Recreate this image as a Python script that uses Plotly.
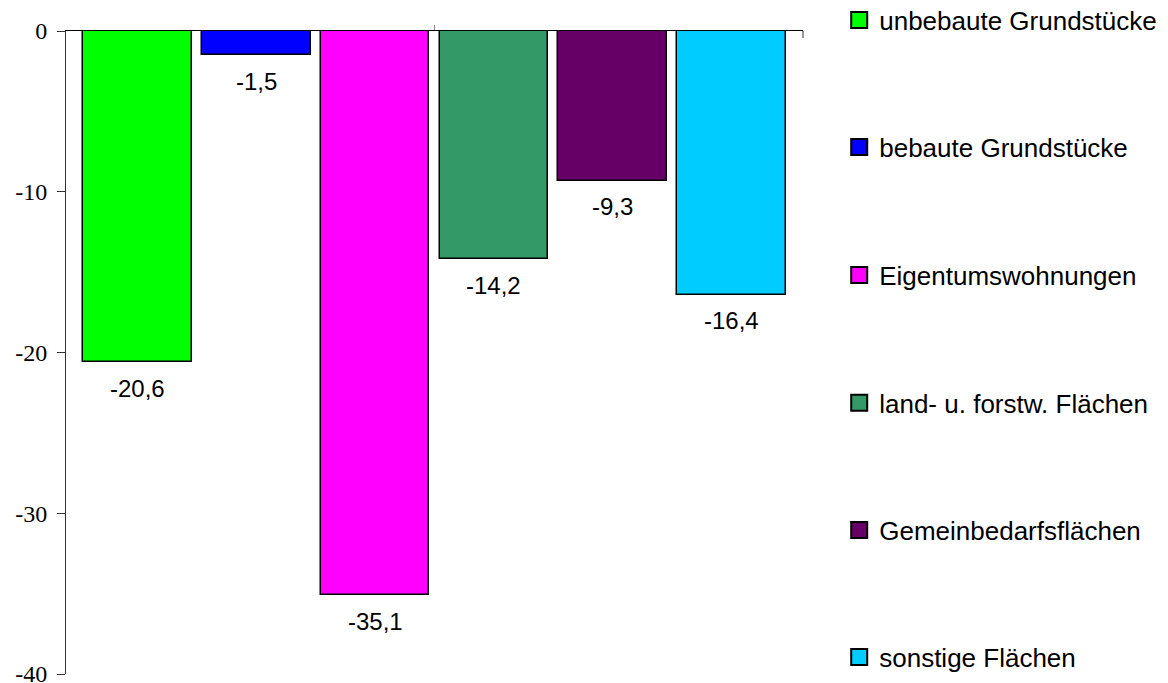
import plotly.graph_objects as go

# Veränderung in Prozent nach Grundstücksart
categories = [
    "unbebaute Grundstücke",
    "bebaute Grundstücke",
    "Eigentumswohnungen",
    "land- u. forstw. Flächen",
    "Gemeinbedarfsflächen",
    "sonstige Flächen",
]
values = [-20.6, -1.5, -35.1, -14.2, -9.3, -16.4]
colors = ["#00FF00", "#0000FF", "#FF00FF", "#339966", "#660066", "#00CCFF"]
y_ticks = [0, -10, -20, -30, -40]

# vertical centre (container units) of each legend entry
legend_y = [0.9707, 0.7848, 0.5974, 0.4100, 0.2240, 0.0380]

SANS = "Liberation Sans"
SERIF = "Liberation Serif"

fig = go.Figure()
layout_legends = {}
for i, (name, val, col) in enumerate(zip(categories, values, colors)):
    key = "legend" if i == 0 else f"legend{i + 1}"
    fig.add_trace(go.Bar(
        x=[i], y=[val], name=name, width=0.915,
        marker=dict(color=col, line=dict(color="black", width=1.5)),
        showlegend=False,
        hoverinfo="skip",
    ))
    # legend key: a larger square swatch in the bar's colour
    fig.add_trace(go.Scatter(
        x=[None], y=[None], name=name, mode="markers",
        marker=dict(symbol="square", size=16, color=col,
                    line=dict(color="black", width=2)),
        legend=key, hoverinfo="skip",
    ))
    fig.add_annotation(
        x=i, y=val, text=f"{val:.1f}".replace(".", ","),
        showarrow=False, yanchor="middle", yshift=-26,
        font=dict(family=SANS, size=24, color="black"),
    )
    layout_legends[key] = dict(
        xref="container", yref="container",
        x=0.7185, y=legend_y[i], xanchor="left", yanchor="middle",
        bgcolor="rgba(0,0,0,0)",
        font=dict(family=SANS, size=26, color="black"),
        itemclick=False, itemdoubleclick=False,
    )

# small tick at the right end of the category axis
fig.add_shape(type="line", xref="paper", yref="paper",
              x0=1, x1=1, y0=1, y1=1 - 7 / 643,
              line=dict(color="#333333", width=1))

fig.update_layout(
    width=1168, height=683,
    margin=dict(l=66, r=365, t=31, b=9, autoexpand=False),
    paper_bgcolor="white", plot_bgcolor="white",
    showlegend=True,
    xaxis=dict(
        range=[-0.6, 5.6], side="top",
        showline=True, linecolor="black", linewidth=1,
        tickvals=[2.5], ticks="outside", ticklen=5, tickcolor="#888888",
        showticklabels=False, showgrid=False, zeroline=False, fixedrange=True,
    ),
    yaxis=dict(
        range=[-40, 0], tickvals=y_ticks, ticktext=[str(t) for t in y_ticks],
        showline=True, linecolor="#333333", linewidth=1,
        ticks="outside", ticklen=8, tickcolor="#333333",
        ticklabelstandoff=5, ticklabeloverflow="allow",
        tickfont=dict(family=SERIF, size=24, color="black"),
        showgrid=False, zeroline=False, fixedrange=True,
    ),
    bargap=0,
    **layout_legends,
)

fig.write_html("out.html")
